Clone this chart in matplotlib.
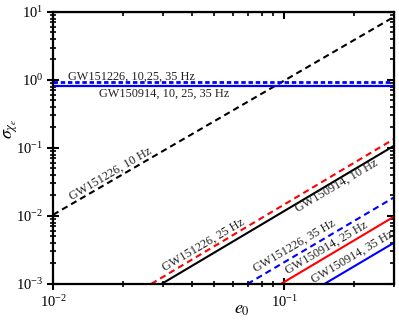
import numpy as np
import matplotlib.pyplot as plt
from matplotlib.ticker import LogLocator, NullFormatter

plt.rcParams['font.family'] = ['Liberation Serif', 'DejaVu Serif']
plt.rcParams['mathtext.fontset'] = 'stix'

# end points of each power-law curve
e_151226_10 = [0.01, 0.3]
s_151226_10 = [0.0104, 8.5]
e_151226_25 = [0.0266, 0.3]
s_151226_25 = [0.001, 0.136]
e_151226_35 = [0.0695, 0.3]
s_151226_35 = [0.001, 0.0188]
e_150914_10 = [0.0295, 0.3]
s_150914_10 = [0.001, 0.108]
e_150914_25 = [0.097, 0.3]
s_150914_25 = [0.001, 0.0098]
e_150914_35 = [0.1496, 0.3]
s_150914_35 = [0.001, 0.00405]
# flat curves
e_flat = [0.01, 0.3]
s_flat_151226 = [0.92, 0.92]
s_flat_150914 = [0.81, 0.81]

fig = plt.figure(figsize=(3.99, 3.23), dpi=100)
ax = fig.add_axes([0.133, 0.121, 0.855, 0.842])
ax.set_xscale('log')
ax.set_yscale('log')
ax.set_xlim(0.01, 0.3)
ax.set_ylim(1e-3, 10)

lw = 1.5
dash = (0, (3, 2))
ax.plot(e_151226_10, s_151226_10, color='black', ls=dash, lw=lw)
ax.plot(e_151226_25, s_151226_25, color='red', ls=dash, lw=lw)
ax.plot(e_150914_10, s_150914_10, color='black', ls='-', lw=lw)
ax.plot(e_151226_35, s_151226_35, color='blue', ls=dash, lw=lw)
ax.plot(e_150914_25, s_150914_25, color='red', ls='-', lw=lw)
ax.plot(e_150914_35, s_150914_35, color='blue', ls='-', lw=lw)
ax.plot(e_flat, s_flat_150914, color='blue', ls='-', lw=1.6)
ax.plot(e_flat, s_flat_151226, color='blue', ls=(0, (1.6, 1.0)), lw=2.0)

# angle of the slope-2 curves on screen
fig.canvas.draw()
p = ax.transData.transform([(0.01, 0.001), (0.1, 0.1)])
ang = np.degrees(np.arctan2(p[1, 1] - p[0, 1], p[1, 0] - p[0, 0]))

fs = 8.8
tkw = dict(fontsize=fs, color='#222222', rotation=ang, rotation_mode='anchor',
           ha='left', va='baseline')
ax.text(0.0121, 0.017, 'GW151226, 10 Hz', **tkw)
ax.text(0.0305, 0.00155, 'GW151226, 25 Hz', **tkw)
ax.text(0.115, 0.0113, 'GW150914, 10 Hz', **tkw)
ax.text(0.0755, 0.00152, 'GW151226, 35 Hz', **tkw)
ax.text(0.104, 0.00138, 'GW150914, 25 Hz', **tkw)
ax.text(0.134, 0.00104, 'GW150914, 35 Hz', **tkw)
ax.text(0.0116, 1.02, 'GW151226, 10,25, 35 Hz', fontsize=fs, color='#222222',
        ha='left', va='baseline')
ax.text(0.0158, 0.76, 'GW150914, 10, 25, 35 Hz', fontsize=fs, color='#222222',
        ha='left', va='top')

ax.set_xlabel(r'$e_0$', fontsize=13)
ax.set_ylabel(r'$\sigma_{\chi_e}$', fontsize=13)
ax.xaxis.set_label_coords(0.554, -0.062)
ax.yaxis.set_label_coords(-0.097, 0.57)

for s in ax.spines.values():
    s.set_linewidth(1.6)

ax.xaxis.set_major_locator(LogLocator(base=10, numticks=10))
ax.xaxis.set_minor_locator(LogLocator(base=10, subs=np.arange(2, 10), numticks=20))
ax.yaxis.set_minor_locator(LogLocator(base=10, subs=np.arange(2, 10), numticks=20))
ax.xaxis.set_minor_formatter(NullFormatter())
ax.yaxis.set_minor_formatter(NullFormatter())
ax.tick_params(which='major', direction='inout', length=8, width=1.5, labelsize=10.5, pad=3)
ax.tick_params(which='minor', direction='inout', length=5, width=1.2)

secx = ax.secondary_xaxis('top')
secx.xaxis.set_minor_locator(LogLocator(base=10, subs=np.arange(2, 10), numticks=20))
secx.tick_params(which='major', direction='in', length=5, width=1.5, labeltop=False)
secx.tick_params(which='minor', direction='in', length=3, width=1.2)
secx.xaxis.set_minor_formatter(NullFormatter())
secy = ax.secondary_yaxis('right')
secy.yaxis.set_minor_locator(LogLocator(base=10, subs=np.arange(2, 10), numticks=20))
secy.tick_params(which='major', direction='in', length=5, width=1.5, labelright=False)
secy.tick_params(which='minor', direction='in', length=3, width=1.2)
secy.yaxis.set_minor_formatter(NullFormatter())

fig.savefig('out.png', dpi=100)
